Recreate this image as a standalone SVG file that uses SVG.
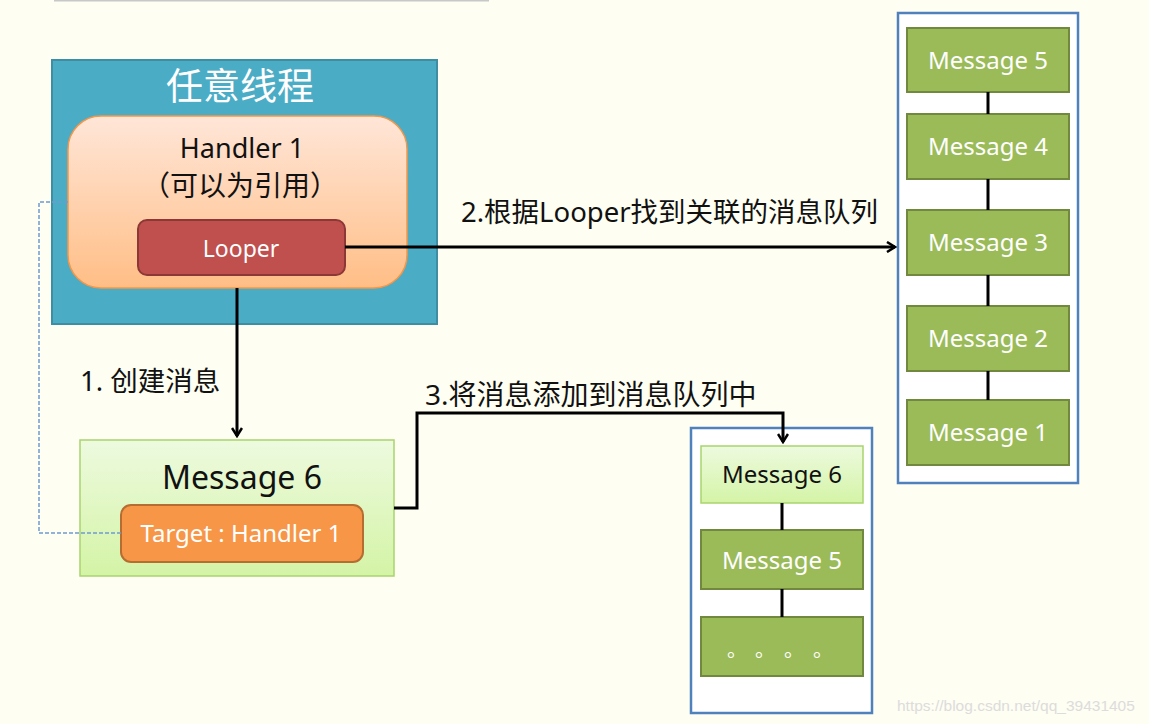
<svg xmlns="http://www.w3.org/2000/svg" width="1149" height="724" viewBox="0 0 1149 724">
<defs>
<style>
.lat{font-family:"Noto Sans","Open Sans",sans-serif;}
.cjk{font-family:"Noto Sans","Noto Sans CJK SC",sans-serif;}
.wt{fill:#ffffff;}
.bk{fill:#111111;}
.gm{fill:#9BBB59;stroke:#71893F;stroke-width:2;}
.lm{fill:url(#gLight);stroke:#A9D46F;stroke-width:1.5;}
.conn{stroke:#000;stroke-width:3;fill:none;}
.q{fill:#ffffff;stroke:#4F81BD;stroke-width:2.5;}
</style>
<linearGradient id="gHandler" x1="0" y1="0" x2="0" y2="1">
<stop offset="0" stop-color="#FFE6D8"/>
<stop offset="1" stop-color="#FFBE86"/>
</linearGradient>
<linearGradient id="gLight" x1="0" y1="0" x2="0" y2="1">
<stop offset="0" stop-color="#EDFADF"/>
<stop offset="1" stop-color="#D4F4A6"/>
</linearGradient>
<marker id="arr" viewBox="0 0 12 12" refX="10" refY="6" markerWidth="12" markerHeight="12" markerUnits="userSpaceOnUse" orient="auto">
<path d="M2,1 L10,6 L2,11" fill="none" stroke="#000" stroke-width="2.5"/>
</marker>
</defs>
<rect x="0" y="0" width="1149" height="724" fill="#FEFEF2"/>
<line x1="54" y1="0.5" x2="489" y2="0.5" stroke="#C8C8C8" stroke-width="2"/>

<g id="thread">
<rect x="52" y="60" width="385" height="264" fill="#4BACC6" stroke="#3D8DA3" stroke-width="2"/>
<text x="240" y="100" text-anchor="middle" class="cjk wt" font-size="37" fill="#F2FAFC">任意线程</text>
</g>
<g id="handler">
<rect x="68" y="116" width="339" height="172" rx="33" fill="url(#gHandler)" stroke="#F79646" stroke-width="1.5"/>
<text x="242" y="158" text-anchor="middle" class="lat bk" font-size="27">Handler 1</text>
<text x="240" y="196" text-anchor="middle" class="cjk bk" font-size="28">（可以为引用）</text>
</g>
<g id="looper">
<rect x="138" y="220" width="207" height="55" rx="9" fill="#C0504D" stroke="#8C3836" stroke-width="2"/>
<text x="241" y="257" text-anchor="middle" class="lat wt" font-size="23">Looper</text>
</g>
<g id="message6">
<rect x="80" y="440" width="314" height="136" fill="url(#gLight)" stroke="#A9D46F" stroke-width="1.5"/>
<text x="242" y="489" text-anchor="middle" class="lat bk" font-size="32">Message 6</text>
</g>
<g id="target">
<rect x="121" y="505" width="242" height="57" rx="10" fill="#F79646" stroke="#B66D31" stroke-width="2"/>
<text x="241" y="542" text-anchor="middle" class="lat wt" font-size="24">Target : Handler 1</text>
</g>

<g id="queue-main">
<rect x="898" y="13" width="180" height="470" class="q"/>
</g>
<g id="qm5"><rect x="907" y="28" width="162" height="64" class="gm"/><text x="988" y="69" text-anchor="middle" class="lat wt" font-size="24">Message 5</text></g>
<g id="qm4"><rect x="907" y="114" width="162" height="65" class="gm"/><text x="988" y="155" text-anchor="middle" class="lat wt" font-size="24">Message 4</text></g>
<g id="qm3"><rect x="907" y="210" width="162" height="65" class="gm"/><text x="988" y="251" text-anchor="middle" class="lat wt" font-size="24">Message 3</text></g>
<g id="qm2"><rect x="907" y="306" width="162" height="65" class="gm"/><text x="988" y="347" text-anchor="middle" class="lat wt" font-size="24">Message 2</text></g>
<g id="qm1"><rect x="907" y="400" width="162" height="65" class="gm"/><text x="988" y="441" text-anchor="middle" class="lat wt" font-size="24">Message 1</text></g>

<g id="queue-new">
<rect x="691" y="428" width="181" height="285" class="q"/>
</g>
<g id="qn6"><rect x="701" y="446" width="162" height="57" class="lm"/><text x="782" y="483" text-anchor="middle" class="lat bk" font-size="24">Message 6</text></g>
<g id="qn5"><rect x="701" y="530" width="162" height="59" class="gm"/><text x="782" y="569" text-anchor="middle" class="lat wt" font-size="24">Message 5</text></g>
<g id="qndots"><rect x="701" y="617" width="162" height="59" class="gm"/><text x="727 755 784 813" y="657" class="cjk wt" font-size="20">。。。。</text></g>

<g id="connectors">
<line x1="988" y1="92" x2="988" y2="114" class="conn"/>
<line x1="988" y1="179" x2="988" y2="210" class="conn"/>
<line x1="988" y1="275" x2="988" y2="306" class="conn"/>
<line x1="988" y1="371" x2="988" y2="400" class="conn"/>
<line x1="782" y1="503" x2="782" y2="530" class="conn"/>
<line x1="782" y1="589" x2="782" y2="617" class="conn"/>
<path d="M345,247 H895" class="conn" marker-end="url(#arr)"/>
<path d="M237,288 V436" class="conn" marker-end="url(#arr)"/>
<path d="M394,508 H417 V413 H783 V442" class="conn" marker-end="url(#arr)"/>
<path d="M68,202 H39 V533 H121" fill="none" stroke="#6F9BD1" stroke-width="1.5" stroke-dasharray="4,2"/>
<text x="461" y="222" class="cjk bk" font-size="27.5">2.根据Looper找到关联的消息队列</text>
<text x="80" y="391" class="cjk bk" font-size="27.5">1. 创建消息</text>
<text x="425" y="405" class="cjk bk" font-size="28">3.将消息添加到消息队列中</text>
</g>
<text x="897" y="711" font-family="Liberation Sans, Arial, sans-serif" font-size="15.5" fill="#DCDCDC">https://blog.csdn.net/qq_39431405</text>
</svg>
